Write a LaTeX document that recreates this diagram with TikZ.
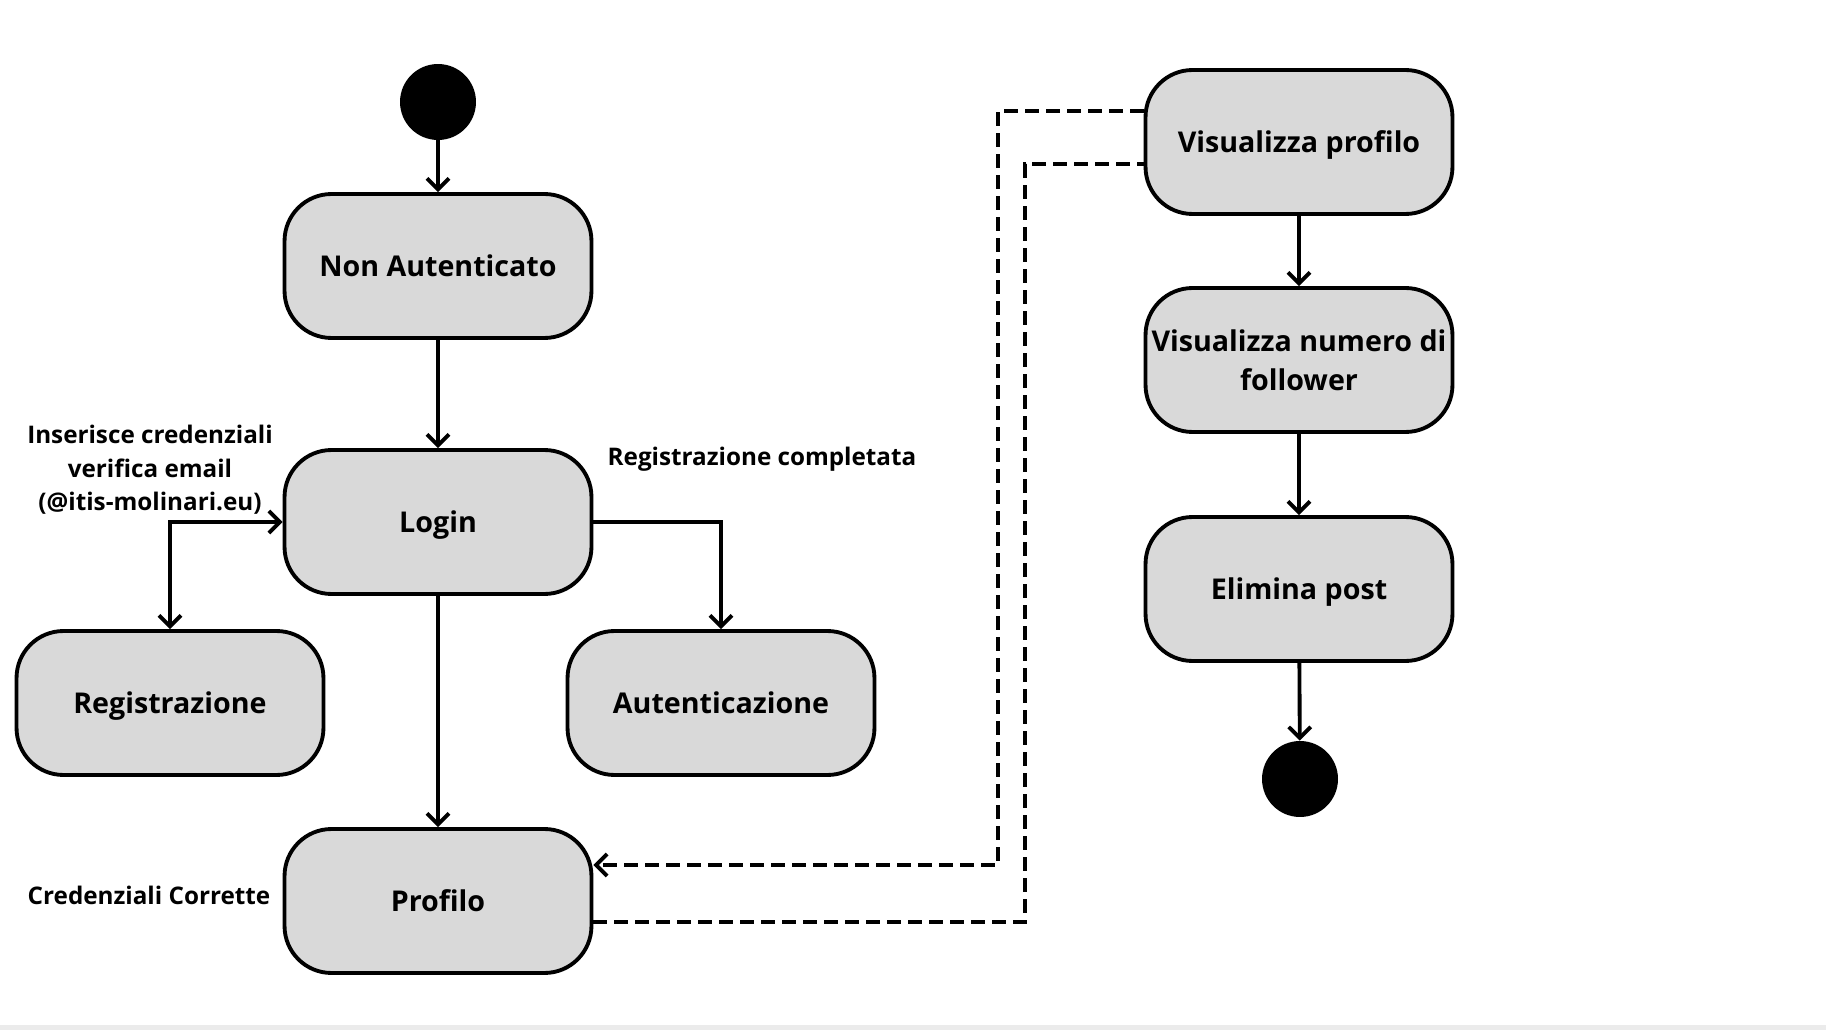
\documentclass[tikz,border=0pt]{standalone}
\usepackage{fontspec}
\setmainfont{Open Sans}
\usepackage{xcolor}
\usetikzlibrary{shapes, positioning, arrows.meta}

\definecolor{boxgray}{HTML}{D9D9D9}

\tikzset{
  statebox/.style={draw, line width=2.2pt, rounded corners=0.94cm, fill=boxgray,
    minimum width=6.14cm, minimum height=2.88cm, inner sep=2pt, align=center,
    text depth=0pt, font=\bfseries\fontsize{16.3}{22}\selectfont},
  dot/.style={circle, fill=black, minimum size=1.52cm, inner sep=0pt},
  flow/.style={line width=2.2pt, -{Straight Barb[length=0.22cm, width=0.44cm]}},
  dflow/.style={line width=2.2pt, dash pattern=on 0.28cm off 0.14cm},
  lbl/.style={align=center, text depth=0pt, font=\bfseries\fontsize{13.8}{19}\selectfont},
}

\begin{document}
\begin{tikzpicture}[x=0.02cm, y=-0.02cm]
  \useasboundingbox (0,0) rectangle (1826,1030);
  \fill[black!8] (0,1025) rectangle (1826,1030);

  % left column
  \node[dot] (Start) at (438,102) {};
  \node[statebox] (NonAuth) at (438,266) {Non Autenticato};
  \node[statebox] (Login) at (438,522) {Login};
  \node[statebox] (Registrazione) at (170,703) {Registrazione};
  \node[statebox] (Autenticazione) at (721,703) {Autenticazione};
  \node[statebox] (Profilo) at (438,901) {Profilo};

  \node[lbl] (InsCred) at (150,468) {Inserisce credenziali\\verifica email\\(@itis-molinari.eu)};
  \node[lbl] (RegOk) at (762,456) {Registrazione completata};
  \node[lbl] (CredOk) at (149,895) {Credenziali Corrette};

  % right column
  \node[statebox] (VisProfilo) at (1299,142) {Visualizza profilo};
  \node[statebox] (VisFollower) at (1299,360) {Visualizza numero di\\follower};
  \node[statebox] (EliminaPost) at (1299,589) {Elimina post};
  \node[dot] (End) at (1300,779) {};

  \draw[flow] (Start) -- (NonAuth);
  \draw[flow] (NonAuth) -- (Login);
  \draw[flow, {Straight Barb[length=0.22cm, width=0.44cm]}-{Straight Barb[length=0.22cm, width=0.44cm]}] (Registrazione.north) |- (Login.west);
  \draw[flow] (Login.east) -| (Autenticazione.north);
  \draw[flow] (Login) -- (Profilo);

  \draw[flow] (VisProfilo) -- (VisFollower);
  \draw[flow] (VisFollower) -- (EliminaPost);
  \draw[flow] (EliminaPost) -- (End);

  % dashed links
  \coordinate (railA) at (998,0);
  \coordinate (railB) at (1025,0);
  \coordinate (outA) at ([yshift=0.62cm]VisProfilo.west);
  \coordinate (inA) at ([yshift=0.72cm]Profilo.east);
  \coordinate (outB) at ([yshift=-0.42cm]Profilo.east);
  \coordinate (inB) at ([yshift=-0.44cm]VisProfilo.west);
  \draw[dflow, -{Straight Barb[length=0.22cm, width=0.44cm]}] (outA) -- (outA -| railA) -- (inA -| railA) -- (inA);
  \draw[dflow] (outB) -- (outB -| railB) -- (inB -| railB) -- (inB);
\end{tikzpicture}
\end{document}
